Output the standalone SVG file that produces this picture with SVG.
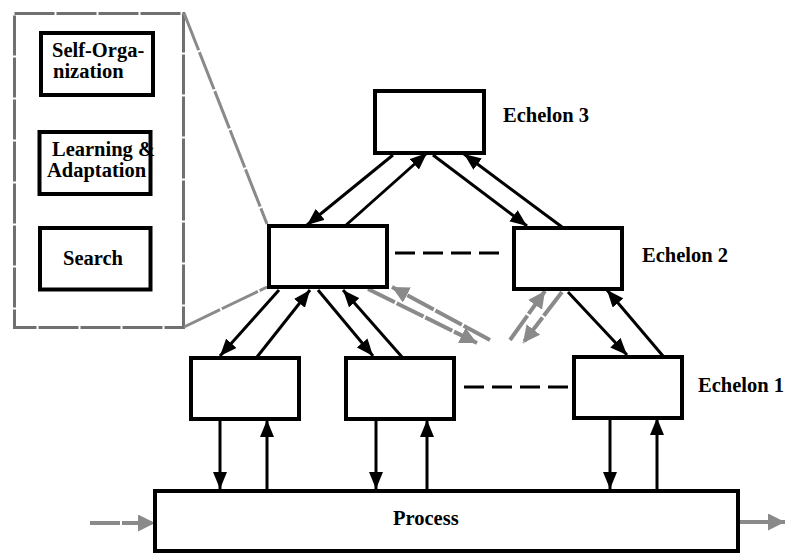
<svg xmlns="http://www.w3.org/2000/svg" width="785" height="554" viewBox="0 0 785 554">
<defs>
<marker id="ah" markerUnits="userSpaceOnUse" markerWidth="18" markerHeight="14" refX="17" refY="7" orient="auto">
<path d="M0,0 L17,7 L0,14 z" fill="#000"/>
</marker>
<marker id="gh" markerUnits="userSpaceOnUse" markerWidth="18" markerHeight="18" refX="17" refY="8.5" orient="auto">
<path d="M0,0 L17,8.5 L0,17 z" fill="#8a8a8a"/>
</marker>
</defs>
<style>
.box{fill:#fff;stroke:#000;stroke-width:4}
.lbl{font-family:"Liberation Serif","Times New Roman",serif;font-weight:bold;font-size:20.5px;fill:#000}
.arr{stroke:#000;stroke-width:3;fill:none;marker-end:url(#ah)}
.gar{stroke:#8a8a8a;stroke-width:4;fill:none;stroke-dasharray:30 2;marker-end:url(#gh)}
.dash{stroke:#000;stroke-width:3;stroke-dasharray:20 8;fill:none}
.gl{stroke:#8a8a8a;stroke-width:3;fill:none;stroke-dasharray:40 2}
</style>
<rect width="785" height="554" fill="#fff"/>
<g id="panel">
<rect x="14.5" y="13.5" width="169" height="314" fill="#fff" stroke="#707070" stroke-width="3" stroke-dasharray="40 2"/>
<line class="gl" x1="184" y1="13" x2="267" y2="224"/>
<line class="gl" x1="184" y1="327" x2="267" y2="287"/>
</g>
<g id="self-org">
<rect class="box" x="41" y="33" width="112" height="62"/>
<text class="lbl" x="52" y="57">Self-Orga-</text>
<text class="lbl" x="53" y="78">nization</text>
</g>
<g id="learning">
<rect class="box" x="39.5" y="132" width="111" height="62"/>
<text class="lbl" x="52" y="156">Learning &amp;</text>
<text class="lbl" x="47" y="177">Adaptation</text>
</g>
<g id="search">
<rect class="box" x="40" y="228" width="110.5" height="61.5"/>
<text class="lbl" x="63" y="265">Search</text>
</g>
<g id="connectors">
<line class="dash" x1="395" y1="253" x2="502" y2="253"/>
<line class="dash" x1="464" y1="387" x2="572" y2="387"/>
<line class="arr" x1="393" y1="155" x2="307" y2="225"/>
<line class="arr" x1="345" y1="226" x2="427" y2="153"/>
<line class="arr" x1="433" y1="155" x2="527" y2="226"/>
<line class="arr" x1="562" y1="227" x2="464" y2="154"/>
<line class="arr" x1="279" y1="290" x2="220" y2="356"/>
<line class="arr" x1="257" y1="357" x2="310" y2="290"/>
<line class="arr" x1="318" y1="290" x2="373" y2="356"/>
<line class="arr" x1="402" y1="357" x2="343" y2="290"/>
<line class="arr" x1="568" y1="292" x2="627" y2="355"/>
<line class="arr" x1="663" y1="356" x2="607" y2="290"/>
<line class="arr" x1="220" y1="421" x2="220" y2="489"/>
<line class="arr" x1="267" y1="490" x2="267" y2="420"/>
<line class="arr" x1="376" y1="421" x2="376" y2="489"/>
<line class="arr" x1="427" y1="490" x2="427" y2="420"/>
<line class="arr" x1="610" y1="419" x2="610" y2="489"/>
<line class="arr" x1="657" y1="490" x2="657" y2="418"/>
<line class="gar" x1="368" y1="289" x2="477" y2="343"/>
<line class="gar" x1="490" y1="340" x2="392" y2="287"/>
<line class="gar" x1="510" y1="340" x2="545" y2="291"/>
<line class="gar" x1="562" y1="292" x2="523" y2="343"/>
<line class="gar" x1="90" y1="523" x2="155" y2="523"/>
<line class="gar" x1="740" y1="522" x2="785" y2="522"/>
</g>
<g id="echelon3">
<rect class="box" x="375" y="91" width="109" height="62"/>
<text class="lbl" x="503" y="122">Echelon 3</text>
</g>
<g id="echelon2-left">
<rect class="box" x="269" y="226" width="118" height="61"/>
</g>
<g id="echelon2-right">
<rect class="box" x="514" y="228" width="108" height="61"/>
<text class="lbl" x="642" y="262">Echelon 2</text>
</g>
<g id="echelon1-a">
<rect class="box" x="191" y="358" width="108" height="61"/>
</g>
<g id="echelon1-b">
<rect class="box" x="346" y="358" width="108" height="61"/>
</g>
<g id="echelon1-c">
<rect class="box" x="574" y="357" width="108" height="61"/>
<text class="lbl" x="698" y="392">Echelon 1</text>
</g>
<g id="process">
<rect class="box" x="155" y="491" width="583" height="60"/>
<text class="lbl" x="393" y="525">Process</text>
</g>
</svg>
